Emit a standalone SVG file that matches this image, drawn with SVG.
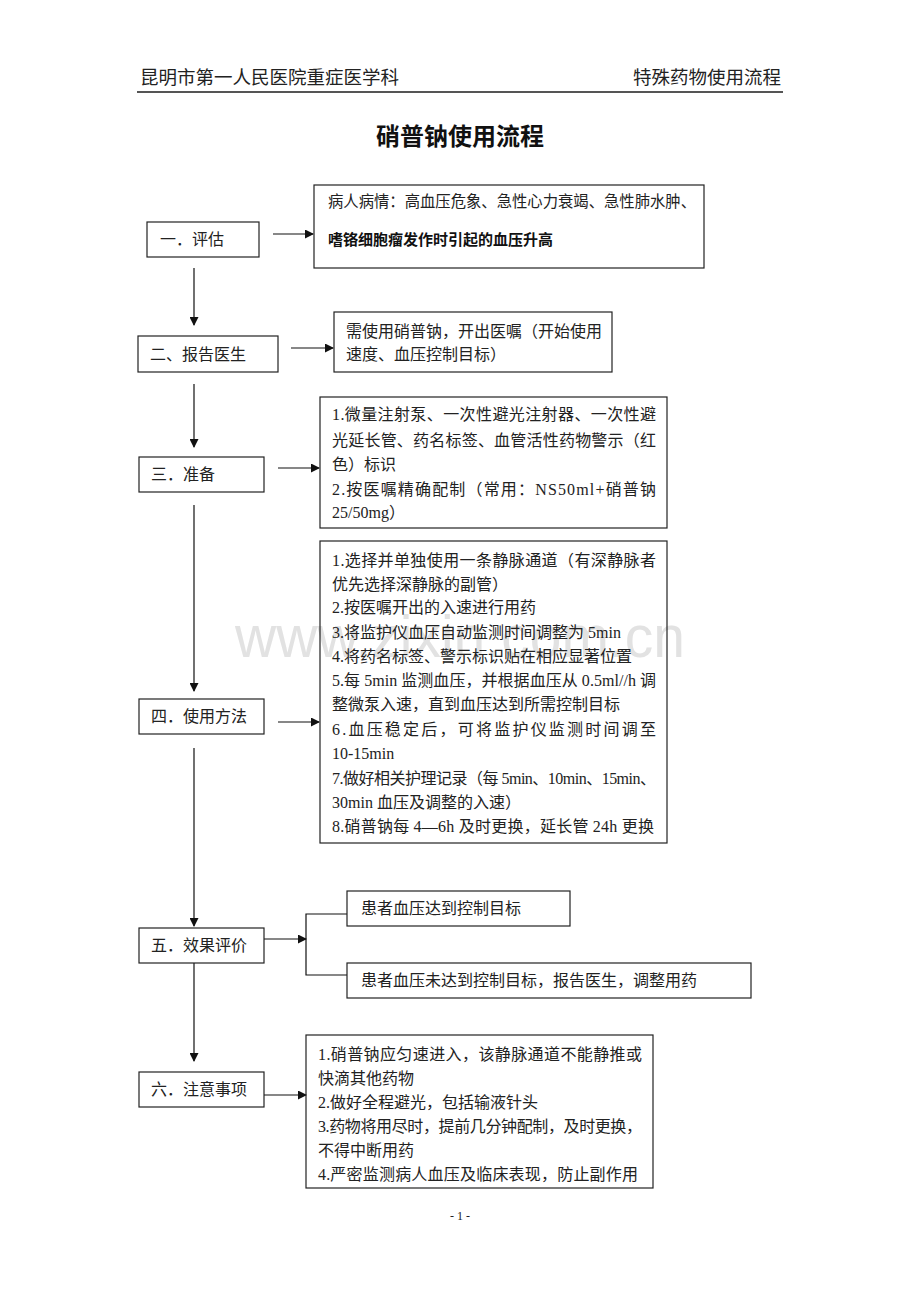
<svg xmlns="http://www.w3.org/2000/svg" width="920" height="1302" viewBox="0 0 920 1302">
<style>
.t{font-family:"Liberation Serif","Noto Sans CJK SC",serif;font-size:16px;fill:#222}
.h{font-family:"Liberation Serif","Noto Sans CJK SC",serif;font-size:18.5px;fill:#222}
.b{fill:none;stroke:#222;stroke-width:1.2}
.c{fill:none;stroke:#111;stroke-width:1.2}
</style>
<defs>
<marker id="ah" markerWidth="9" markerHeight="9" refX="8" refY="4.5" orient="auto" markerUnits="userSpaceOnUse">
<path d="M0,0 L9,4.5 L0,9 Z" fill="#111"/>
</marker>
</defs>
<rect width="920" height="1302" fill="#fff"/>
<text x="235" y="657" font-family="Liberation Sans,Arial,sans-serif" font-size="60" fill="#e2e2e2" textLength="450" lengthAdjust="spacingAndGlyphs">www.zixin.com.cn</text>
<g id="header">
<text class="h" x="140" y="84">昆明市第一人民医院重症医学科</text>
<text class="h" x="633" y="84">特殊药物使用流程</text>
<line x1="137" y1="92" x2="783" y2="92" stroke="#555" stroke-width="2"/>
</g>
<text id="title" x="460" y="145" text-anchor="middle" font-family="Liberation Serif,'Noto Sans CJK SC',serif" font-size="24" font-weight="bold" fill="#111">硝普钠使用流程</text>
<g id="connectors">
<line class="c" x1="273" y1="234" x2="313" y2="234" marker-end="url(#ah)"/>
<line class="c" x1="194" y1="268" x2="194" y2="325" marker-end="url(#ah)"/>
<line class="c" x1="291" y1="348" x2="333" y2="348" marker-end="url(#ah)"/>
<line class="c" x1="194" y1="384" x2="194" y2="447" marker-end="url(#ah)"/>
<line class="c" x1="278" y1="468" x2="319" y2="468" marker-end="url(#ah)"/>
<line class="c" x1="194" y1="505" x2="194" y2="691" marker-end="url(#ah)"/>
<line class="c" x1="278" y1="722" x2="319" y2="722" marker-end="url(#ah)"/>
<line class="c" x1="194" y1="748" x2="194" y2="926" marker-end="url(#ah)"/>
<line class="c" x1="264" y1="939" x2="306" y2="939" marker-end="url(#ah)"/>
<polyline class="c" points="347,914 306,914 306,975 347,975"/>
<line class="c" x1="194" y1="963" x2="194" y2="1061" marker-end="url(#ah)"/>
<line class="c" x1="264" y1="1095" x2="306" y2="1095" marker-end="url(#ah)"/>
</g>
<g id="n1">
<rect class="b" x="147" y="222" width="112" height="35"/>
<text class="t" x="160" y="245">一．评估</text>
</g>
<g id="n1r">
<rect class="b" x="314" y="185" width="390" height="83"/>
<text class="t" x="328" y="206.5" font-size="15.3" textLength="368" lengthAdjust="spacingAndGlyphs">病人病情：高血压危象、急性心力衰竭、急性肺水肿、</text>
<text x="328" y="245" font-family="Noto Sans CJK SC,sans-serif" font-size="15" font-weight="bold" fill="#111">嗜铬细胞瘤发作时引起的血压升高</text>
</g>
<g id="n2">
<rect class="b" x="138" y="336" width="140" height="36"/>
<text class="t" x="150" y="359.5">二、报告医生</text>
</g>
<g id="n2r">
<rect class="b" x="334" y="312" width="278" height="60"/>
<text class="t" x="346" y="336.5">需使用硝普钠，开出医嘱（开始使用</text>
<text class="t" x="346" y="359.5">速度、血压控制目标）</text>
</g>
<g id="n3">
<rect class="b" x="139" y="457" width="125" height="35"/>
<text class="t" x="151" y="480">三．准备</text>
</g>
<g id="n3r">
<rect class="b" x="320" y="397" width="347" height="131"/>
<text class="t" x="332" y="419.5" textLength="324" lengthAdjust="spacing">1.微量注射泵、一次性避光注射器、一次性避</text>
<text class="t" x="332" y="445.5" textLength="324" lengthAdjust="spacing">光延长管、药名标签、血管活性药物警示（红</text>
<text class="t" x="332" y="469.5">色）标识</text>
<text class="t" x="332" y="494.5" textLength="324" lengthAdjust="spacing">2.按医嘱精确配制（常用：NS50ml+硝普钠</text>
<text class="t" x="332" y="517.5">25/50mg）</text>
</g>
<g id="n4">
<rect class="b" x="139" y="699" width="125" height="35"/>
<text class="t" x="151" y="722">四．使用方法</text>
</g>
<g id="n4r">
<rect class="b" x="320" y="541" width="347" height="302"/>
<text class="t" x="332" y="565.5" textLength="324" lengthAdjust="spacing">1.选择并单独使用一条静脉通道（有深静脉者</text>
<text class="t" x="332" y="589.5">优先选择深静脉的副管）</text>
<text class="t" x="332" y="613">2.按医嘱开出的入速进行用药</text>
<text class="t" x="332" y="637.5">3.将监护仪血压自动监测时间调整为 5min</text>
<text class="t" x="332" y="661.5">4.将药名标签、警示标识贴在相应显著位置</text>
<text class="t" x="332" y="685.5" textLength="324" lengthAdjust="spacing">5.每 5min 监测血压，并根据血压从 0.5ml//h 调</text>
<text class="t" x="332" y="710">整微泵入速，直到血压达到所需控制目标</text>
<text class="t" x="332" y="734.5" textLength="324" lengthAdjust="spacing">6.血压稳定后，可将监护仪监测时间调至</text>
<text class="t" x="332" y="758.5">10-15min</text>
<text class="t" x="332" y="783.5" textLength="324" lengthAdjust="spacing">7.做好相关护理记录（每 5min、10min、15min、</text>
<text class="t" x="332" y="807.5">30min 血压及调整的入速）</text>
<text class="t" x="332" y="831.5" textLength="322" lengthAdjust="spacing">8.硝普钠每 4—6h 及时更换，延长管 24h 更换</text>
</g>
<g id="n5">
<rect class="b" x="139" y="928" width="125" height="35"/>
<text class="t" x="151" y="951">五．效果评价</text>
</g>
<g id="n5a">
<rect class="b" x="347" y="891" width="223" height="35"/>
<text class="t" x="361" y="914">患者血压达到控制目标</text>
</g>
<g id="n5b">
<rect class="b" x="347" y="963" width="404" height="35"/>
<text class="t" x="361" y="986">患者血压未达到控制目标，报告医生，调整用药</text>
</g>
<g id="n6">
<rect class="b" x="139" y="1072" width="125" height="35"/>
<text class="t" x="151" y="1095">六．注意事项</text>
</g>
<g id="n6r">
<rect class="b" x="306" y="1035" width="347" height="153"/>
<text class="t" x="318" y="1059.5" textLength="324" lengthAdjust="spacing">1.硝普钠应匀速进入，该静脉通道不能静推或</text>
<text class="t" x="318" y="1083.5">快滴其他药物</text>
<text class="t" x="318" y="1107.5">2.做好全程避光，包括输液针头</text>
<text class="t" x="318" y="1131.5" textLength="324" lengthAdjust="spacing">3.药物将用尽时，提前几分钟配制，及时更换，</text>
<text class="t" x="318" y="1155.5">不得中断用药</text>
<text class="t" x="318" y="1179.5" textLength="320" lengthAdjust="spacing">4.严密监测病人血压及临床表现，防止副作用</text>
</g>
<text id="page" x="460" y="1220" text-anchor="middle" font-family="Liberation Serif,serif" font-size="12" fill="#222">- 1 -</text>
</svg>
